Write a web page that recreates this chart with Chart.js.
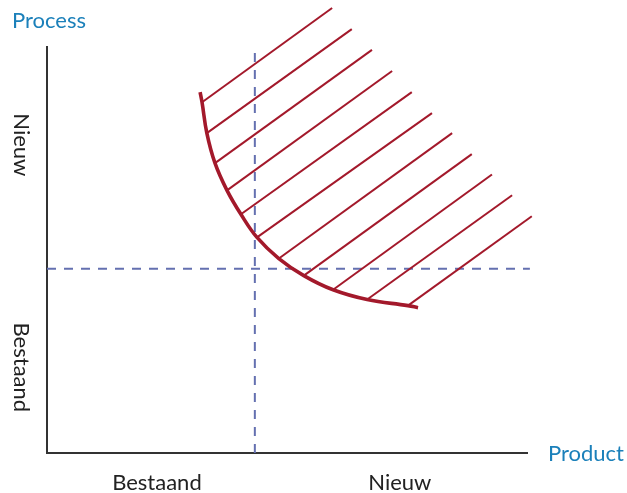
<!DOCTYPE html>
<html>
<head>
<meta charset="utf-8">
<script src="https://cdn.jsdelivr.net/npm/chart.js@4/dist/chart.umd.min.js"></script>
<style>
  html, body { margin: 0; padding: 0; background: #ffffff; }
  #wrap { width: 627px; height: 493px; }
</style>
</head>
<body>
<div id="wrap"><canvas id="c" width="627" height="493"></canvas></div>
<script>
// ---- data (abstract units: x 0..100 = Product, y 0..100 = Process) ----
const xCategories = ["Bestaand", "Nieuw"];
const xCategoryPos = [22.9, 73.5];
const yCategories = ["Nieuw", "Bestaand"];
const yCategoryPos = [75.9, 21.1];
const xAxisTitle = "Product";
const yAxisTitle = "Process";

// dividing lines between "Bestaand" and "Nieuw"
const dividerX = 43.3;
const dividerY = 45.4;
const dividerXTop = 99.3;
const dividerYRight = 100.6;

// frontier curve
const curveX = [31.9, 32.3, 33.3, 35.0, 37.5, 40.4, 43.75, 48.3, 53.5, 59.6, 66.7, 75.2, 77.3];
const curveY = [88.9, 86.4, 78.8, 71.4, 64.7, 58.8, 53.1, 47.9, 43.7, 40.2, 37.8, 36.3, 35.8];

// hatch lines: start on the curve, end at upper right
const hatchStartX = [32.3, 33.3, 35.0, 37.5, 40.4, 43.75, 48.3, 53.5, 59.6, 66.7, 75.2];
const hatchStartY = [86.4, 78.8, 71.4, 64.7, 58.8, 53.1, 47.9, 43.7, 40.2, 37.8, 36.3];
const hatchEndX   = [59.4, 63.5, 67.7, 71.9, 76.0, 80.2, 84.4, 88.5, 92.7, 96.9, 101.0];
const hatchEndY   = [109.6, 104.4, 99.3, 94.1, 88.9, 83.7, 78.8, 73.6, 68.6, 63.5, 58.3];

// ---- styles ----
const RED = "#a3192b";
const DASH = "#6470b0";
const BLUE = "#1b80ba";
const AXIS = "#333333";
const TEXT = "#222222";
const FONT = "Lato, 'Open Sans', sans-serif";

const datasets = [];
datasets.push({
  label: "curve",
  data: curveX.map((x, i) => ({ x: x, y: curveY[i] })),
  borderColor: RED, borderWidth: 3.6, tension: 0.4,
  pointRadius: 0, showLine: true, clip: false, order: 0,
  borderCapStyle: "butt"
});
hatchStartX.forEach((x, i) => {
  datasets.push({
    label: "hatch" + i,
    data: [{ x: x, y: hatchStartY[i] }, { x: hatchEndX[i], y: hatchEndY[i] }],
    borderColor: RED, borderWidth: 2, pointRadius: 0,
    showLine: true, clip: false, order: 1
  });
});
datasets.push({
  label: "divX",
  data: [{ x: dividerX, y: 0 }, { x: dividerX, y: dividerXTop }],
  borderColor: DASH, borderWidth: 2, borderDash: [9, 8],
  pointRadius: 0, showLine: true, clip: false, order: 2
});
datasets.push({
  label: "divY",
  data: [{ x: 0, y: dividerY }, { x: dividerYRight, y: dividerY }],
  borderColor: DASH, borderWidth: 2, borderDash: [9, 8],
  pointRadius: 0, showLine: true, clip: false, order: 2
});

const labelPlugin = {
  id: "quadLabels",
  afterDraw(chart) {
    const ctx = chart.ctx;
    const xs = chart.scales.x, ys = chart.scales.y;
    const area = chart.chartArea;
    ctx.save();
    ctx.font = "22px " + FONT;
    ctx.fillStyle = TEXT;
    ctx.textAlign = "center";
    ctx.textBaseline = "alphabetic";
    xCategories.forEach((t, i) => {
      ctx.fillText(t, xs.getPixelForValue(xCategoryPos[i]), area.bottom + 37);
    });
    yCategories.forEach((t, i) => {
      ctx.save();
      ctx.translate(area.left - 33, ys.getPixelForValue(yCategoryPos[i]));
      ctx.rotate(Math.PI / 2);
      ctx.fillText(t, 0, 0);
      ctx.restore();
    });
    ctx.fillStyle = BLUE;
    ctx.textAlign = "left";
    ctx.fillText(yAxisTitle, 12, 27.5);
    ctx.fillText(xAxisTitle, area.right + 21, area.bottom + 8);
    ctx.restore();
  }
};

new Chart(document.getElementById("c"), {
  type: "scatter",
  data: { datasets: datasets },
  options: {
    responsive: false,
    animation: false,
    events: [],
    layout: { padding: { left: 39, top: 47, right: 100, bottom: 32 } },
    plugins: { legend: { display: false }, tooltip: { enabled: false } },
    scales: {
      x: {
        type: "linear", min: 0, max: 100,
        grid: { display: false },
        ticks: { display: false },
        border: { display: true, color: AXIS, width: 2 }
      },
      y: {
        type: "linear", min: 0, max: 100,
        grid: { display: false },
        ticks: { display: false },
        border: { display: true, color: AXIS, width: 2 }
      }
    }
  },
  plugins: [labelPlugin]
});
</script>
</body>
</html>
